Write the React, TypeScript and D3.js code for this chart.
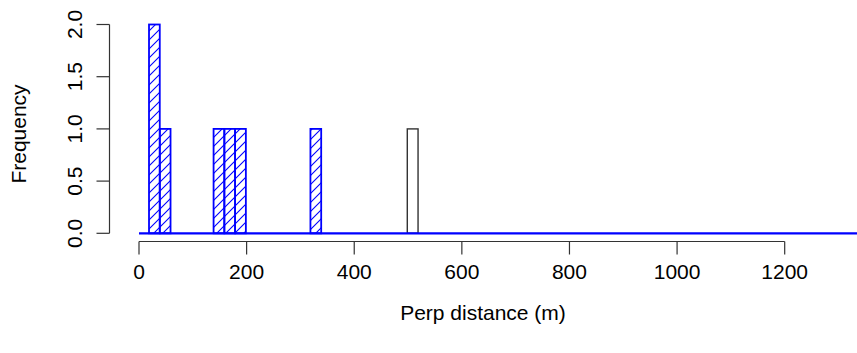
import React from "react";
import * as d3 from "d3";

// Histogram bins (left edge in metres), width 20 m
const binWidth = 20;
const blueBinStarts = [18.6, 38.6, 138.6, 158.6, 178.6, 318.6];
const blueCounts = [2, 1, 1, 1, 1, 1];
const blackBinStarts = [498.6];
const blackCounts = [1];
const xTicks = [0, 200, 400, 600, 800, 1000, 1200];
const yTicks = [0, 0.5, 1.0, 1.5, 2.0];
const yTickLabels = ["0.0", "0.5", "1.0", "1.5", "2.0"];
const baselineEnd = 1340;

const W = 857;
const H = 353;

export default function App() {
  const x = d3.scaleLinear().domain([0, 1200]).range([139, 784.7]);
  const y = d3.scaleLinear().domain([0, 2]).range([233.3, 24.5]);
  const font = "'Liberation Sans', Arial, sans-serif";
  const fs = 21;
  const axisY = 241.5;
  const axisX = 109.5;
  const tick = 13;

  return (
    <svg width={W} height={H} style={{ position: "absolute", left: 0, top: 0, background: "#fff" }}>
      <defs>
        <pattern id="hatch" patternUnits="userSpaceOnUse" width={9} height={9}>
          <path d="M0,9 L9,0 M-2,2 L2,-2 M7,11 L11,7" stroke="#0000ff" strokeWidth={1.1} />
        </pattern>
      </defs>
      <rect x={0} y={0} width={W} height={H} fill="#fff" />
      {blackBinStarts.map((s, i) => (
        <rect
          key={"k" + i}
          x={x(s)}
          y={y(blackCounts[i])}
          width={x(s + binWidth) - x(s)}
          height={y(0) - y(blackCounts[i])}
          fill="none"
          stroke="#333"
          strokeWidth={1.4}
        />
      ))}
      {blueBinStarts.map((s, i) => (
        <rect
          key={"b" + i}
          x={x(s)}
          y={y(blueCounts[i])}
          width={x(s + binWidth) - x(s)}
          height={y(0) - y(blueCounts[i])}
          fill="url(#hatch)"
          stroke="#0000ff"
          strokeWidth={1.8}
        />
      ))}
      <line x1={x(0)} x2={x(baselineEnd)} y1={y(0)} y2={y(0)} stroke="#0000ff" strokeWidth={2.2} />
      {/* x axis */}
      <line x1={x(0)} x2={x(1200)} y1={axisY} y2={axisY} stroke="#333" strokeWidth={1.2} />
      {xTicks.map((t) => (
        <g key={"xt" + t}>
          <line x1={x(t)} x2={x(t)} y1={axisY} y2={axisY + tick} stroke="#333" strokeWidth={1.2} />
          <text x={x(t)} y={279} textAnchor="middle" fontFamily={font} fontSize={fs} fill="#000">
            {t}
          </text>
        </g>
      ))}
      {/* y axis */}
      <line x1={axisX} x2={axisX} y1={y(0)} y2={y(2)} stroke="#333" strokeWidth={1.2} />
      {yTicks.map((t, i) => (
        <g key={"yt" + t}>
          <line x1={axisX - tick} x2={axisX} y1={y(t)} y2={y(t)} stroke="#333" strokeWidth={1.2} />
          <text
            transform={`translate(${82},${y(t)}) rotate(-90)`}
            textAnchor="middle"
            fontFamily={font}
            fontSize={fs}
            fill="#000"
          >
            {yTickLabels[i]}
          </text>
        </g>
      ))}
      <text x={483} y={320} textAnchor="middle" fontFamily={font} fontSize={fs} fill="#000">
        Perp distance (m)
      </text>
      <text
        transform={`translate(${26},${134}) rotate(-90)`}
        textAnchor="middle"
        fontFamily={font}
        fontSize={fs}
        fill="#000"
      >
        Frequency
      </text>
    </svg>
  );
}
